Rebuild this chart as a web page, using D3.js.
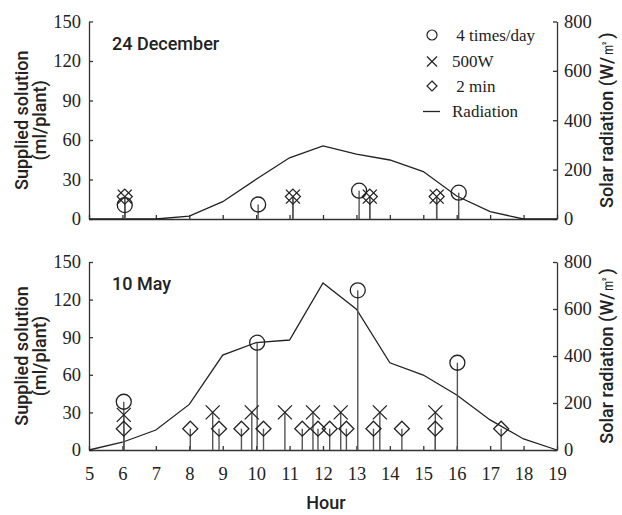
<!DOCTYPE html>
<html>
<head>
<meta charset="utf-8">
<script src="https://cdn.jsdelivr.net/npm/d3@7"></script>
<style>
  body { margin: 0; background: #fff; }
  svg { display: block; background: #fff; }
  .axis path, .axis line { stroke: #333; stroke-width: 1.3; }
  .axis text { font-family: "Liberation Serif", serif; font-size: 18.5px; fill: #222; }
  .sans { font-family: Roboto, "Liberation Sans", Arial, sans-serif; fill: #222; }
  .serif { font-family: "Liberation Serif", serif; fill: #222; }
</style>
</head>
<body>
<svg id="chart" width="622" height="515"></svg>
<script>
// horas do eixo x
const hourTicks = [5, 6, 7, 8, 9, 10, 11, 12, 13, 14, 15, 16, 17, 18, 19];
const leftTicks = [0, 30, 60, 90, 120, 150];
const rightTicks = [0, 200, 400, 600, 800];

// radiação solar (W/m2) em cada hora cheia
const decRadiation = [0, 0, 0, 12, 70, 161, 248, 296, 263, 239, 192, 93, 30, 0, 0];
const mayRadiation = [0, 33, 85, 194, 404, 457, 468, 711, 599, 371, 319, 234, 128, 47, 0];

// [hora, ml/planta]
const decCircles = [[6.07, 10.6], [10.06, 11], [13.08, 21.5], [16.06, 20]];
const decCrosses = [[6.07, 17], [11.1, 17], [13.4, 17], [15.4, 17]];
const decDiamonds = [[6.07, 17], [11.1, 17], [13.4, 17], [15.4, 17]];

const mayCircles = [[6.04, 38.5], [10.03, 85.6], [13.04, 127.4], [16.02, 69.6]];
const mayCrosses = [[6.04, 28], [8.7, 30], [9.87, 30], [10.86, 30], [11.7, 30], [12.53, 30], [13.7, 30], [15.36, 30]];
const mayDiamonds = [[6.04, 17], [8.03, 17], [8.89, 17], [9.56, 17], [10.22, 17], [11.38, 17], [11.85, 17],
                     [12.2, 17], [12.7, 17], [13.51, 17], [14.36, 17], [15.36, 17], [17.33, 17]];

const svg = d3.select('#chart');

const x = d3.scaleLinear().domain([5, 19]).range([89, 557]);

const crossPath = 'M-7,-7L7,7M-7,7L7,-7';
const diamondPath = 'M0,-7.5L7.5,0L0,7.5L-7.5,0Z';

function drawPanel(p) {
  const yL = d3.scaleLinear().domain([0, 150]).range([p.bottom, p.top]);
  const yR = d3.scaleLinear().domain([0, 800]).range([p.bottom, p.top]);
  const g = svg.append('g');

  // eixos
  g.append('g').attr('class', 'axis')
    .attr('transform', `translate(${x(5)},0)`)
    .call(d3.axisLeft(yL).tickValues(leftTicks).tickSizeInner(-4).tickSizeOuter(0).tickPadding(8));

  g.append('g').attr('class', 'axis')
    .attr('transform', `translate(${x(19)},0)`)
    .call(d3.axisRight(yR).tickValues(rightTicks).tickSizeInner(-4).tickSizeOuter(0).tickPadding(7));

  const xAxis = d3.axisBottom(x).tickValues(hourTicks).tickSizeInner(-4).tickSizeOuter(0).tickPadding(17);
  if (!p.showX) xAxis.tickFormat('');
  g.append('g').attr('class', 'axis')
    .attr('transform', `translate(0,${p.bottom})`)
    .call(xAxis);

  // linha da radiação
  const line = d3.line().x((d, i) => x(hourTicks[i])).y(d => yR(d));
  g.append('path')
    .datum(p.radiation)
    .attr('d', line)
    .attr('fill', 'none')
    .attr('stroke', '#222')
    .attr('stroke-width', 1.3);

  // hastes verticais
  const all = [].concat(p.circles, p.crosses, p.diamonds);
  g.selectAll('line.stem')
    .data(all)
    .join('line')
    .attr('class', 'stem')
    .attr('x1', d => x(d[0])).attr('x2', d => x(d[0]))
    .attr('y1', yL(0)).attr('y2', d => yL(d[1]))
    .attr('stroke', '#555')
    .attr('stroke-width', 1.4);

  g.selectAll('circle.mk')
    .data(p.circles)
    .join('circle')
    .attr('class', 'mk')
    .attr('cx', d => x(d[0])).attr('cy', d => yL(d[1]))
    .attr('r', 7.5)
    .attr('fill', 'none').attr('stroke', '#222').attr('stroke-width', 1.3);

  g.selectAll('path.cross')
    .data(p.crosses)
    .join('path')
    .attr('class', 'cross')
    .attr('d', crossPath)
    .attr('transform', d => `translate(${x(d[0])},${yL(d[1])})`)
    .attr('fill', 'none').attr('stroke', '#222').attr('stroke-width', 1.3);

  g.selectAll('path.diamond')
    .data(p.diamonds)
    .join('path')
    .attr('class', 'diamond')
    .attr('d', diamondPath)
    .attr('transform', d => `translate(${x(d[0])},${yL(d[1])})`)
    .attr('fill', 'none').attr('stroke', '#222').attr('stroke-width', 1.3);

  // rótulo da data
  g.append('text').attr('class', 'sans')
    .attr('x', 112).attr('y', p.top + 22).attr('dy', '0.35em')
    .attr('font-size', 18).attr('font-weight', 500)
    .text(p.label);

  // títulos dos eixos y
  const cy = (p.top + p.bottom) / 2;
  g.append('text').attr('class', 'sans')
    .attr('transform', `translate(22,${cy}) rotate(-90)`)
    .attr('text-anchor', 'middle').attr('dy', '0.35em')
    .attr('font-size', 18).attr('font-weight', 500)
    .text('Supplied solution');
  g.append('text').attr('class', 'sans')
    .attr('transform', `translate(40,${cy}) rotate(-90)`)
    .attr('text-anchor', 'middle').attr('dy', '0.35em')
    .attr('font-size', 18).attr('font-weight', 500)
    .text('(ml/plant)');
  g.append('text').attr('class', 'sans')
    .attr('transform', `translate(607,${cy}) rotate(-90)`)
    .attr('text-anchor', 'middle').attr('dy', '0.35em')
    .attr('font-size', 18).attr('font-weight', 500)
    .text('Solar radiation  (W/㎡)');
}

drawPanel({ top: 21.5, bottom: 219, label: '24 December', radiation: decRadiation,
  circles: decCircles, crosses: decCrosses, diamonds: decDiamonds, showX: false });
drawPanel({ top: 262, bottom: 450, label: '10 May', radiation: mayRadiation,
  circles: mayCircles, crosses: mayCrosses, diamonds: mayDiamonds, showX: true });

// legenda
const leg = svg.append('g');
const lx = 432;
leg.append('circle').attr('cx', lx).attr('cy', 35).attr('r', 5)
  .attr('fill', 'none').attr('stroke', '#222').attr('stroke-width', 1.2);
leg.append('path').attr('d', 'M-5,-5L5,5M-5,5L5,-5').attr('transform', `translate(${lx},61.5)`)
  .attr('fill', 'none').attr('stroke', '#222').attr('stroke-width', 1.2);
leg.append('path').attr('d', 'M0,-5L5,0L0,5L-5,0Z').attr('transform', `translate(${lx},86)`)
  .attr('fill', 'none').attr('stroke', '#222').attr('stroke-width', 1.2);
leg.append('line').attr('x1', lx - 9).attr('x2', lx + 8).attr('y1', 111.5).attr('y2', 111.5)
  .attr('stroke', '#222').attr('stroke-width', 1.3);

const legLabels = [' 4 times/day', '500W', ' 2 min', 'Radiation'];
const legY = [35, 61.5, 86, 111.5];
leg.selectAll('text')
  .data(legLabels)
  .join('text')
  .attr('class', 'serif')
  .attr('x', 452)
  .attr('y', (d, i) => legY[i])
  .attr('dy', '0.35em')
  .attr('font-size', 17)
  .attr('xml:space', 'preserve')
  .style('white-space', 'pre')
  .text(d => d);

// título do eixo x
svg.append('text').attr('class', 'sans')
  .attr('x', 326).attr('y', 503).attr('dy', '0.35em')
  .attr('text-anchor', 'middle').attr('font-size', 18).attr('font-weight', 500)
  .text('Hour');
</script>
</body>
</html>
